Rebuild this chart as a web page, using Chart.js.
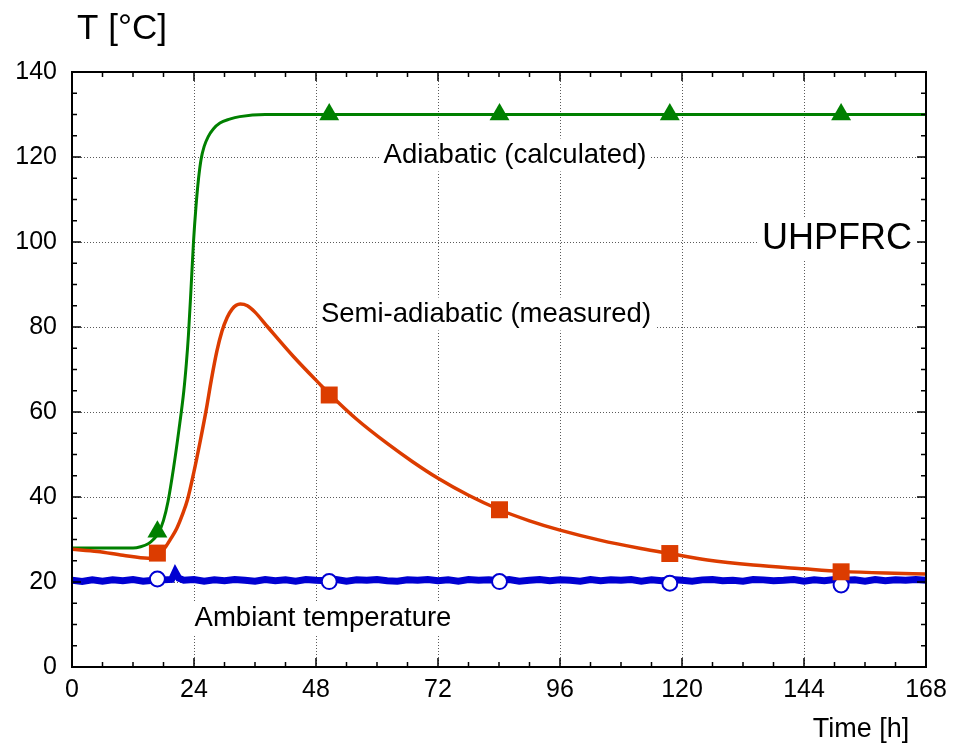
<!DOCTYPE html>
<html>
<head>
<meta charset="utf-8">
<script src="https://cdn.jsdelivr.net/npm/chart.js@4"></script>
<style>
  html, body { margin: 0; padding: 0; background: #fff; }
  canvas { display: block; }
</style>
</head>
<body>
<canvas id="chart" width="955" height="750"></canvas>
<script>
// Axis ticks
const X_TICKS = [0, 24, 48, 72, 96, 120, 144, 168];
const Y_TICKS = [0, 20, 40, 60, 80, 100, 120, 140];

// Adiabatic (calculated) curve
const adiabaticHours = [0, 12, 13.5, 15, 16, 17, 18, 18.9, 20, 21, 22, 22.5, 22.9, 23.4, 23.9, 24.4, 24.9, 25.4, 26, 26.8, 27.8, 29.1, 31, 33, 38, 45, 168];
const adiabaticTemp  = [28, 28, 28.3, 29, 30, 31.5, 34.5, 39, 47, 55.5, 65, 71.5, 78, 88.7, 100, 108.5, 115, 119.5, 122.5, 124.8, 126.6, 128, 128.9, 129.5, 130, 130, 130];

// Semi-adiabatic (measured) curve
const semiHours = [0, 5, 10, 15, 16.5, 17.5, 18.5, 19.5, 20.6, 21.7, 22.7, 24, 25.2, 26.4, 27.4, 28.5, 29.5, 30.5, 31.5, 32.3, 33.1, 34.5, 36, 38.5, 43.6, 48.8, 50.7, 56, 62, 67, 72, 78, 84.1, 90, 96, 104, 111.9, 117.6, 125, 134, 144, 151.3, 160, 168];
const semiTemp  = [27.7, 27.2, 26.3, 25.6, 25.9, 26.9, 28.4, 30.3, 32.6, 35.8, 39.3, 46, 53, 60.5, 67.5, 74.3, 79, 82.2, 84.2, 85.1, 85.4, 85, 83.5, 80, 73, 66.5, 64.2, 58.3, 52.6, 48.3, 44.4, 40.4, 37, 34.4, 32.2, 29.8, 27.9, 26.7, 25.2, 24, 23.1, 22.5, 22.1, 21.9];

// Ambient temperature (measured, noisy)
const ambientHours = [0, 2, 4, 6, 8, 10, 12, 14, 16, 18, 19.6, 20.3, 21, 22,
  24, 26, 28, 30, 32, 34, 36, 38, 40, 42, 44, 46, 48, 50, 52, 54, 56, 58, 60, 62, 64, 66, 68, 70,
  72, 74, 76, 78, 80, 82, 84, 86, 88, 90, 92, 94, 96, 98, 100, 102, 104, 106, 108, 110, 112, 114, 116, 118,
  120, 122, 124, 126, 128, 130, 132, 134, 136, 138, 140, 142, 144, 146, 148, 150, 152, 154, 156, 158, 160, 162, 164, 166, 168];
const ambientTemp = [20.4, 20.1, 20.5, 20.2, 20.5, 20.3, 20.6, 20.2, 20.4, 20.5, 20.6, 22.4, 20.9, 20.4,
  20.6, 20.2, 20.5, 20.3, 20.6, 20.4, 20.2, 20.6, 20.3, 20.5, 20.2, 20.6, 20.4, 20.3, 20.6, 20.2, 20.5, 20.4, 20.6, 20.3, 20.2, 20.5, 20.4, 20.6,
  20.3, 20.5, 20.2, 20.6, 20.4, 20.5, 20.3, 20.6, 20.2, 20.4, 20.6, 20.3, 20.5, 20.4, 20.2, 20.6, 20.3, 20.5, 20.4, 20.6, 20.2, 20.5, 20.3, 20.6,
  20.4, 20.2, 20.5, 20.6, 20.3, 20.4, 20.2, 20.6, 20.5, 20.3, 20.4, 20.6, 20.2, 20.5, 20.3, 20.6, 20.4, 20.5, 20.2, 20.6, 20.3, 20.5, 20.4, 20.6, 20.4];

// Marker symbols
const markerHours   = [16.8, 50.6, 84.1, 117.6, 151.3];
const adiabaticMark = [31.8, 130, 130, 130, 130];
const semiMark      = [26.8, 64, 37, 26.7, 22.4];
const ambientMark   = [20.7, 20.1, 20.1, 19.7, 19.3];

const GREEN = '#008000';
const RED = '#dc3c00';
const BLUE = '#0000d2';
const FONT = '"Liberation Sans", Arial, sans-serif';

function pairs(xs, ys) {
    const n = Math.min(xs.length, ys.length);
    const out = [];
    for (let i = 0; i < n; i++) out.push({ x: xs[i], y: ys[i] });
    return out;
}

// Frame, dotted grid, inward ticks and the text notes
const decorPlugin = {
    id: 'decor',
    beforeDatasetsDraw(chart) {
        const { ctx, chartArea: a, scales: { x, y } } = chart;
        ctx.save();
        ctx.strokeStyle = '#5a5a5a';
        ctx.lineWidth = 1;
        ctx.setLineDash([1, 2]);
        X_TICKS.forEach(v => {
            if (v <= 0 || v >= 168) return;
            const px = Math.round(x.getPixelForValue(v)) + 0.5;
            ctx.beginPath(); ctx.moveTo(px, a.top); ctx.lineTo(px, a.bottom); ctx.stroke();
        });
        Y_TICKS.forEach(v => {
            if (v <= 0 || v >= 140) return;
            const py = Math.round(y.getPixelForValue(v)) + 0.5;
            ctx.beginPath(); ctx.moveTo(a.left, py); ctx.lineTo(a.right, py); ctx.stroke();
        });
        ctx.restore();

        // notes with white boxes
        const notes = [
            { text: 'Adiabatic (calculated)', cx: 515, cy: 155, size: 27.5 },
            { text: 'Semi-adiabatic (measured)', cx: 486, cy: 314, size: 27.5 },
            { text: 'UHPFRC', cx: 837, cy: 239, size: 36 },
            { text: 'Ambiant temperature', cx: 323, cy: 618, size: 27.5 }
        ];
        ctx.save();
        ctx.textAlign = 'center';
        ctx.textBaseline = 'middle';
        notes.forEach(n => {
            ctx.font = n.size + 'px ' + FONT;
            const w = ctx.measureText(n.text).width;
            ctx.fillStyle = '#fff';
            ctx.fillRect(n.cx - w / 2 - 4, n.cy - n.size * 0.6, w + 8, n.size * 1.2);
            ctx.fillStyle = '#000';
            ctx.fillText(n.text, n.cx, n.cy);
        });
        ctx.restore();
    },
    afterDatasetsDraw(chart) {
        const { ctx, chartArea: a, scales: { x, y } } = chart;
        ctx.save();
        ctx.strokeStyle = '#000';
        ctx.lineWidth = 1.5;
        // minor + major ticks, inward on all four sides
        for (let h = 0; h <= 168; h += 6) {
            const px = x.getPixelForValue(h);
            const len = h % 24 === 0 ? 9 : 5;
            ctx.beginPath();
            ctx.moveTo(px, a.bottom); ctx.lineTo(px, a.bottom - len);
            ctx.moveTo(px, a.top); ctx.lineTo(px, a.top + len);
            ctx.stroke();
        }
        for (let t = 0; t <= 140; t += 5) {
            const py = y.getPixelForValue(t);
            const len = t % 20 === 0 ? 9 : 5;
            ctx.beginPath();
            ctx.moveTo(a.left, py); ctx.lineTo(a.left + len, py);
            ctx.moveTo(a.right, py); ctx.lineTo(a.right - len, py);
            ctx.stroke();
        }
        ctx.lineWidth = 2;
        ctx.strokeRect(a.left, a.top, a.right - a.left, a.bottom - a.top);

        // axis titles
        ctx.fillStyle = '#000';
        ctx.textBaseline = 'middle';
        ctx.textAlign = 'center';
        ctx.font = '35px ' + FONT;
        ctx.fillText('T [°C]', 122, 29);
        ctx.font = '27px ' + FONT;
        ctx.fillText('Time [h]', 861, 730);
        ctx.restore();
    }
};

const ctx = document.getElementById('chart').getContext('2d');

new Chart(ctx, {
    type: 'line',
    data: {
        datasets: [
            {
                label: 'semi marks',
                data: pairs(markerHours, semiMark),
                showLine: false,
                pointStyle: 'rect',
                pointRadius: 12,
                pointBackgroundColor: RED,
                pointBorderColor: RED,
                pointBorderWidth: 0
            },
            {
                label: 'adiabatic marks',
                data: pairs(markerHours, adiabaticMark),
                showLine: false,
                pointStyle: 'triangle',
                pointRadius: 11.5,
                pointBackgroundColor: GREEN,
                pointBorderColor: GREEN,
                pointBorderWidth: 0
            },
            {
                label: 'ambient marks',
                data: pairs(markerHours, ambientMark),
                showLine: false,
                pointStyle: 'circle',
                pointRadius: 7.5,
                pointBackgroundColor: '#fff',
                pointBorderColor: BLUE,
                pointBorderWidth: 2
            },
            {
                label: 'Semi-adiabatic (measured)',
                data: pairs(semiHours, semiTemp),
                borderColor: RED,
                borderWidth: 3.5,
                pointRadius: 0,
                cubicInterpolationMode: 'monotone'
            },
            {
                label: 'Adiabatic (calculated)',
                data: pairs(adiabaticHours, adiabaticTemp),
                borderColor: GREEN,
                borderWidth: 3,
                pointRadius: 0,
                cubicInterpolationMode: 'monotone'
            },
            {
                label: 'Ambiant temperature',
                data: pairs(ambientHours, ambientTemp),
                borderColor: BLUE,
                borderWidth: 7,
                pointRadius: 0,
                tension: 0
            }
        ]
    },
    options: {
        responsive: false,
        animation: false,
        events: [],
        layout: { padding: { top: 72, right: 29, left: 0, bottom: 0 } },
        plugins: {
            legend: { display: false },
            tooltip: { enabled: false }
        },
        scales: {
            x: {
                type: 'linear',
                min: 0,
                max: 168,
                grid: { display: false, drawTicks: false },
                border: { display: false },
                afterBuildTicks: (scale) => { scale.ticks = X_TICKS.map(v => ({ value: v })); },
                afterFit: (scale) => { scale.height = 83; },
                ticks: {
                    padding: 8,
                    color: '#000',
                    maxRotation: 0,
                    autoSkip: false,
                    font: { family: FONT, size: 25 }
                }
            },
            y: {
                type: 'linear',
                min: 0,
                max: 140,
                grid: { display: false, drawTicks: false },
                border: { display: false },
                afterBuildTicks: (scale) => { scale.ticks = Y_TICKS.map(v => ({ value: v })); },
                afterFit: (scale) => { scale.width = 72; },
                ticks: {
                    padding: 15,
                    color: '#000',
                    font: { family: FONT, size: 25 }
                }
            }
        }
    },
    plugins: [decorPlugin]
});
</script>
</body>
</html>
